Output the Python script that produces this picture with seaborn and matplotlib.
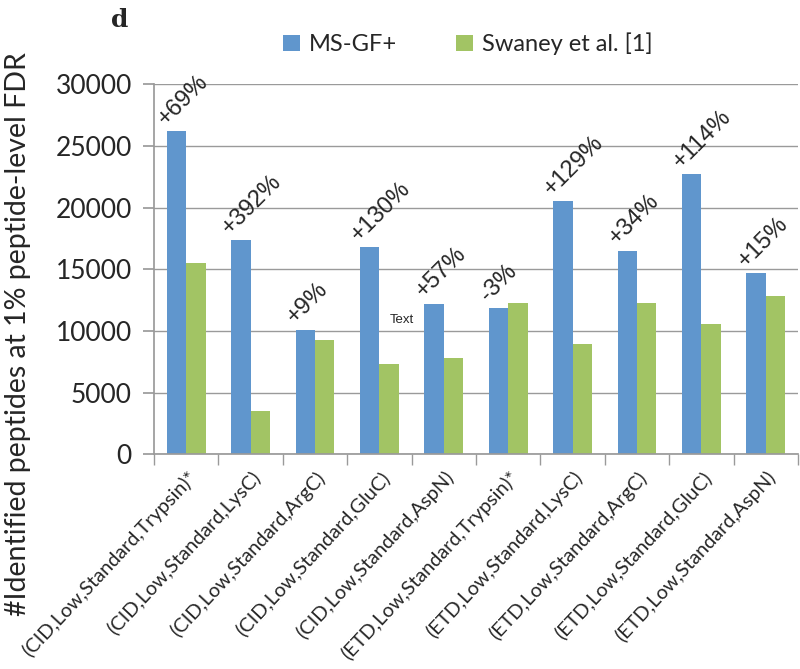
import matplotlib
matplotlib.use("Agg")
import matplotlib.pyplot as plt
import seaborn as sns
import pandas as pd

categories = ["(CID,Low,Standard,Trypsin)*", "(CID,Low,Standard,LysC)",
              "(CID,Low,Standard,ArgC)", "(CID,Low,Standard,GluC)",
              "(CID,Low,Standard,AspN)", "(ETD,Low,Standard,Trypsin)*",
              "(ETD,Low,Standard,LysC)", "(ETD,Low,Standard,ArgC)",
              "(ETD,Low,Standard,GluC)", "(ETD,Low,Standard,AspN)"]
msgf = [26200, 17350, 10100, 16800, 12200, 11900, 20500, 16500, 22700, 14700]
swaney = [15500, 3500, 9300, 7300, 7800, 12300, 8900, 12300, 10600, 12800]
pct_labels = ["+69%", "+392%", "+9%", "+130%", "+57%", "-3%", "+129%", "+34%", "+114%", "+15%"]
series_names = ["MS-GF+", "Swaney et al. [1]"]
yticks = [0, 5000, 10000, 15000, 20000, 25000, 30000]

df = pd.DataFrame({
    "cat": categories * 2,
    "value": msgf + swaney,
    "series": [series_names[0]] * len(categories) + [series_names[1]] * len(categories),
})

sns.set_theme(style="white")
plt.rcParams["font.family"] = ["Lato", "DejaVu Sans"]

fig = plt.figure(figsize=(8, 6.69), dpi=100)
ax = fig.add_axes([0.1925, 0.321, 0.805, 0.553])

palette = {series_names[0]: "#6096CD", series_names[1]: "#A2C464"}
sns.barplot(data=df, x="cat", y="value", hue="series", palette=palette,
            width=0.6, ax=ax, saturation=1, edgecolor="none", linewidth=0)

ax.set_ylim(0, 30000)
ax.set_xlim(-0.5, len(categories) - 0.5)
ax.set_yticks(yticks)
ax.set_yticklabels([str(v) for v in yticks], fontsize=19)
ax.yaxis.grid(True, color="#9a9a9a", linewidth=1)
ax.xaxis.grid(False)
ax.set_axisbelow(True)
for s in ["top", "right"]:
    ax.spines[s].set_visible(False)
for s in ["left", "bottom"]:
    ax.spines[s].set_color("#9a9a9a")
ax.tick_params(axis="y", which="both", left=True, length=8, color="#9a9a9a", pad=8)
ax.set_xticks([i - 0.5 for i in range(len(categories) + 1)], minor=True)
ax.tick_params(axis="x", which="minor", bottom=True, length=8, color="#9a9a9a")
ax.tick_params(axis="x", which="major", bottom=False, pad=4)
ax.set_xticks(range(len(categories)))
ax.set_xticklabels(categories, rotation=47, ha="right", rotation_mode="anchor",
                   fontsize=14.3)
ax.set_xlabel("")
ax.set_ylabel("")

# percent annotations above blue bars
for i, (v, lab) in enumerate(zip(msgf, pct_labels)):
    ax.text(i - 0.26, v + 150, lab, rotation=45, rotation_mode="anchor",
            ha="left", va="bottom", fontsize=17, family="Liberation Sans")

ax.text(3.35, 10900, "Text", fontsize=9.5, ha="center", va="center", family="Liberation Sans")

leg = ax.legend(loc="center", bbox_to_anchor=(0.585, 0.934), bbox_transform=fig.transFigure,
                ncol=2, frameon=False, fontsize=17, handlelength=0.7, handleheight=0.7,
                columnspacing=2.5, handletextpad=0.4)

fig.text(0.022, 0.5, "#Identified peptides at 1% peptide-level FDR", rotation=90,
         ha="center", va="center", fontsize=20.5)
fig.text(0.15, 0.97, "d", fontsize=18, fontweight="bold", family="DejaVu Serif",
         ha="center", va="center")

fig.savefig("out.png", dpi=100)
